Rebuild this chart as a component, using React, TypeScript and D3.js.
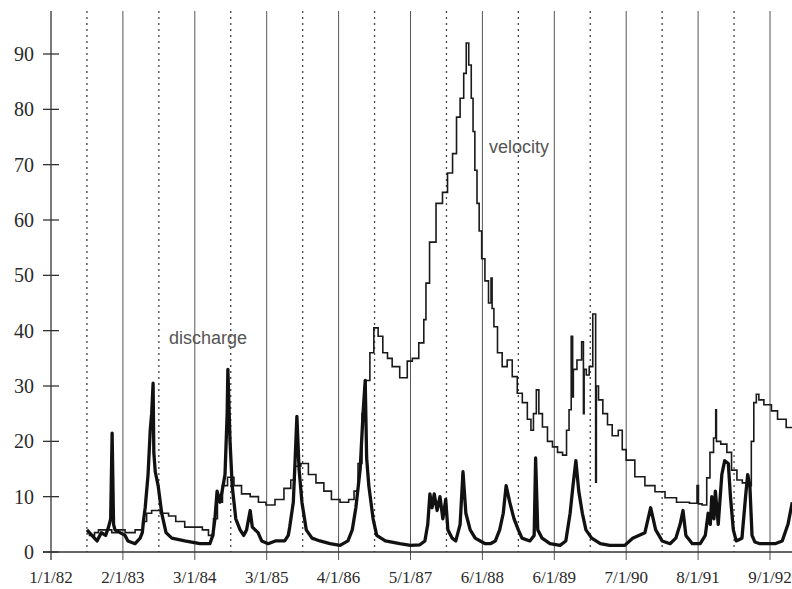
import React, { useRef, useEffect } from "react";
import * as d3 from "d3";

// tick labels along the bottom (one per solid grid line)
const tickLabels = [
  "1/1/82", "2/1/83", "3/1/84", "3/1/85", "4/1/86", "5/1/87",
  "6/1/88", "6/1/89", "7/1/90", "8/1/91", "9/1/92",
];

const yTicks = [0, 10, 20, 30, 40, 50, 60, 70, 80, 90];

// [period, value] - period measured in label intervals from 1/1/82
const discharge: [number, number][] = [
  [0.5, 4], [0.57, 3], [0.64, 2], [0.7, 3.5], [0.76, 3], [0.8, 4.5], [0.83, 6],
  [0.85, 21.5], [0.87, 5], [0.89, 4], [0.96, 3.5], [1.03, 3], [1.07, 2], [1.17, 1.5],
  [1.24, 2.5], [1.27, 3.5], [1.29, 6], [1.31, 8], [1.35, 14], [1.38, 22], [1.4, 25],
  [1.42, 30.5], [1.43, 18], [1.45, 14.5], [1.49, 12], [1.54, 7], [1.6, 3.5], [1.68, 2.5],
  [1.86, 2], [2.07, 1.5], [2.21, 1.5], [2.25, 3], [2.28, 6], [2.31, 11], [2.35, 9],
  [2.38, 11], [2.42, 14], [2.45, 25], [2.46, 33], [2.49, 20], [2.52, 12], [2.57, 6],
  [2.63, 4], [2.68, 3], [2.72, 4], [2.77, 7.5], [2.8, 4.5], [2.88, 3.5], [2.93, 2],
  [3.02, 1.5], [3.12, 2], [3.25, 2], [3.3, 3], [3.32, 4.5], [3.37, 9], [3.39, 15],
  [3.42, 24.5], [3.45, 15], [3.49, 9], [3.55, 4], [3.63, 2.5], [3.74, 2], [3.88, 1.5],
  [4.02, 1.2], [4.13, 2], [4.19, 4], [4.24, 8], [4.3, 15], [4.34, 25], [4.37, 31],
  [4.39, 17], [4.42, 12], [4.48, 6], [4.53, 3], [4.65, 2], [4.85, 1.5], [5.0, 1.2],
  [5.13, 1.3], [5.2, 2], [5.24, 5], [5.27, 10.5], [5.3, 8], [5.33, 10.5], [5.37, 7.5],
  [5.41, 10], [5.45, 6], [5.49, 9.5], [5.52, 4], [5.58, 2.5], [5.63, 2], [5.69, 5],
  [5.73, 14.5], [5.77, 7], [5.83, 4], [5.9, 2.5], [5.97, 2], [6.04, 1.5], [6.11, 1.5],
  [6.18, 2], [6.24, 4], [6.29, 7], [6.33, 12], [6.38, 9], [6.44, 6], [6.5, 4],
  [6.55, 2.5], [6.66, 2], [6.72, 3], [6.74, 17], [6.77, 4], [6.83, 2.5], [6.94, 1.5],
  [7.08, 1.2], [7.16, 2], [7.22, 7], [7.26, 12], [7.3, 16.5], [7.34, 11], [7.39, 7],
  [7.44, 4], [7.52, 2.5], [7.64, 1.5], [7.77, 1.2], [7.98, 1.2], [8.09, 2.5], [8.26, 3.5],
  [8.34, 8], [8.41, 4], [8.5, 2], [8.61, 1.5], [8.69, 2.5], [8.75, 5], [8.79, 7.5],
  [8.83, 3], [8.92, 1.5], [9.03, 1.5], [9.1, 3], [9.14, 7], [9.17, 5], [9.19, 10],
  [9.22, 6], [9.24, 11], [9.28, 5], [9.33, 14], [9.37, 16.5], [9.42, 16], [9.45, 10],
  [9.49, 4], [9.53, 2], [9.61, 2.5], [9.66, 10], [9.69, 14], [9.72, 12], [9.75, 3],
  [9.79, 1.8], [9.86, 1.5], [10.07, 1.5], [10.17, 2], [10.25, 5], [10.31, 9],
];

const velocity: [number, number][] = [
  [0.5, 3.5], [0.57, 3], [0.64, 3.5], [0.68, 4], [0.8, 4], [0.89, 3.5], [0.96, 4],
  [1.1, 3.5], [1.24, 4], [1.31, 5.5], [1.35, 7], [1.45, 7.5], [1.59, 7], [1.68, 6.5],
  [1.79, 5.5], [1.93, 4.5], [2.07, 4.5], [2.14, 4], [2.24, 3], [2.28, 6], [2.35, 9],
  [2.42, 12], [2.49, 13.5], [2.6, 12], [2.7, 10.5], [2.84, 10], [2.93, 9], [3.05, 8.5],
  [3.18, 9.5], [3.3, 11.5], [3.37, 13], [3.42, 15.5], [3.53, 16], [3.63, 14], [3.74, 12.5],
  [3.85, 11], [3.95, 9.5], [4.09, 9], [4.19, 9.5], [4.24, 11], [4.3, 16], [4.35, 25],
  [4.41, 31], [4.46, 36], [4.52, 40.5], [4.58, 39], [4.65, 36], [4.71, 35], [4.78, 33.5],
  [4.92, 31.5], [4.99, 34.5], [5.06, 35], [5.17, 37.8], [5.2, 42], [5.23, 48.6], [5.3, 56],
  [5.41, 63], [5.48, 65], [5.55, 68.5], [5.62, 72], [5.66, 78.6], [5.72, 82], [5.76, 86.5],
  [5.79, 92], [5.83, 88], [5.86, 82], [5.88, 76], [5.91, 69], [5.94, 63], [5.97, 58],
  [6.01, 53], [6.06, 49], [6.11, 45], [6.13, 49.5], [6.14, 44], [6.18, 40.7], [6.24, 36],
  [6.31, 33.5], [6.38, 34.7], [6.45, 31.7], [6.52, 28.7], [6.59, 27], [6.66, 24], [6.69, 22],
  [6.73, 25], [6.77, 29.3], [6.8, 25], [6.87, 22.6], [6.94, 20], [7.01, 19], [7.08, 18],
  [7.15, 17.5], [7.19, 22], [7.22, 25.7], [7.25, 39], [7.26, 28], [7.27, 33], [7.36, 34.7],
  [7.4, 38], [7.41, 25], [7.42, 33], [7.47, 32], [7.5, 33.5], [7.57, 43], [7.58, 12.6],
  [7.59, 30], [7.64, 27.5], [7.71, 25], [7.77, 23], [7.84, 21], [7.94, 22], [7.95, 18.5],
  [8.05, 16.6], [8.19, 13.6], [8.33, 12], [8.47, 10.9], [8.61, 9.8], [8.79, 9], [8.97, 8.8],
  [9.0, 12], [9.01, 8.7], [9.1, 8.5], [9.14, 13.4], [9.19, 18], [9.24, 20.6], [9.25, 25.7],
  [9.26, 20], [9.37, 19.5], [9.43, 18], [9.5, 14.8], [9.58, 13], [9.65, 12.5], [9.72, 12],
  [9.76, 20], [9.79, 27], [9.83, 28.5], [9.86, 27.5], [9.97, 26.6], [10.07, 25.5],
  [10.14, 24], [10.31, 22.5],
];

const Chart = ({ width = 792, height = 589 }) => {
  const ref = useRef<SVGSVGElement>(null);

  useEffect(() => {
    const node = ref.current;
    if (!node) return;
    d3.select(node).selectChildren().remove();
    const svg = d3.select(node);

    const x = d3.scaleLinear().domain([0, 10]).range([51, 770]);
    const y = d3.scaleLinear().domain([0, 90]).range([552, 54]);
    const top = 11;

    // solid lines at each label, dotted half way between
    const grid = svg.append("g");
    grid
      .selectAll("line.solid")
      .data(d3.range(1, tickLabels.length))
      .enter()
      .append("line")
      .attr("x1", (d) => x(d))
      .attr("x2", (d) => x(d))
      .attr("y1", top)
      .attr("y2", y(0) + 8)
      .attr("stroke", "#555")
      .attr("stroke-width", 1);

    grid
      .selectAll("line.dot")
      .data(d3.range(0.5, 10, 1))
      .enter()
      .append("line")
      .attr("x1", (d) => x(d))
      .attr("x2", (d) => x(d))
      .attr("y1", top)
      .attr("y2", y(0))
      .attr("stroke", "#444")
      .attr("stroke-width", 1.3)
      .attr("stroke-dasharray", "2,4");

    // Y axis
    svg
      .append("line")
      .attr("x1", x(0))
      .attr("x2", x(0))
      .attr("y1", top)
      .attr("y2", y(0) + 8)
      .attr("stroke", "#333")
      .attr("stroke-width", 1.3);

    const yt = svg.append("g");
    yt.selectAll("line")
      .data(yTicks)
      .enter()
      .append("line")
      .attr("x1", x(0) - 8)
      .attr("x2", x(0) + 8)
      .attr("y1", (d) => y(d))
      .attr("y2", (d) => y(d))
      .attr("stroke", "#333")
      .attr("stroke-width", 1.3);
    yt.selectAll("text")
      .data(yTicks)
      .enter()
      .append("text")
      .attr("x", 34)
      .attr("y", (d) => y(d))
      .attr("dy", "0.35em")
      .attr("text-anchor", "end")
      .style("font-family", "'Liberation Serif', serif")
      .style("font-size", "20px")
      .attr("fill", "#2a2a2a")
      .text((d) => d);

    // X axis
    svg
      .append("line")
      .attr("x1", 43)
      .attr("x2", width)
      .attr("y1", y(0))
      .attr("y2", y(0))
      .attr("stroke", "#333")
      .attr("stroke-width", 1.3);

    svg
      .append("g")
      .selectAll("text")
      .data(tickLabels)
      .enter()
      .append("text")
      .attr("x", (_, i) => x(i))
      .attr("y", 583)
      .attr("text-anchor", "middle")
      .style("font-family", "'Liberation Serif', serif")
      .style("font-size", "17px")
      .attr("fill", "#2a2a2a")
      .text((d) => d);

    // series
    const line = d3
      .line<[number, number]>()
      .x((d) => x(d[0]))
      .y((d) => y(d[1]));

    svg
      .append("path")
      .attr("d", line.curve(d3.curveStep)(velocity))
      .attr("fill", "none")
      .attr("stroke", "#1a1a1a")
      .attr("stroke-width", 1.6);

    svg
      .append("path")
      .attr("d", line.curve(d3.curveLinear)(discharge))
      .attr("fill", "none")
      .attr("stroke", "#111")
      .attr("stroke-width", 3.3)
      .attr("stroke-linejoin", "round");

    // labels
    const label = (txt: string, px: number, py: number) =>
      svg
        .append("text")
        .attr("x", px)
        .attr("y", py)
        .style("font-family", "'Liberation Sans', Arial, sans-serif")
        .style("font-size", "18px")
        .attr("fill", "#555")
        .text(txt);
    label("velocity", 489, 153);
    label("discharge", 169, 344);
  }, [width, height]);

  return (
    <svg
      ref={ref}
      width={width}
      height={height}
      style={{ position: "absolute", left: 0, top: 0, background: "#fff" }}
    />
  );
};

export default function App() {
  return <Chart />;
}
